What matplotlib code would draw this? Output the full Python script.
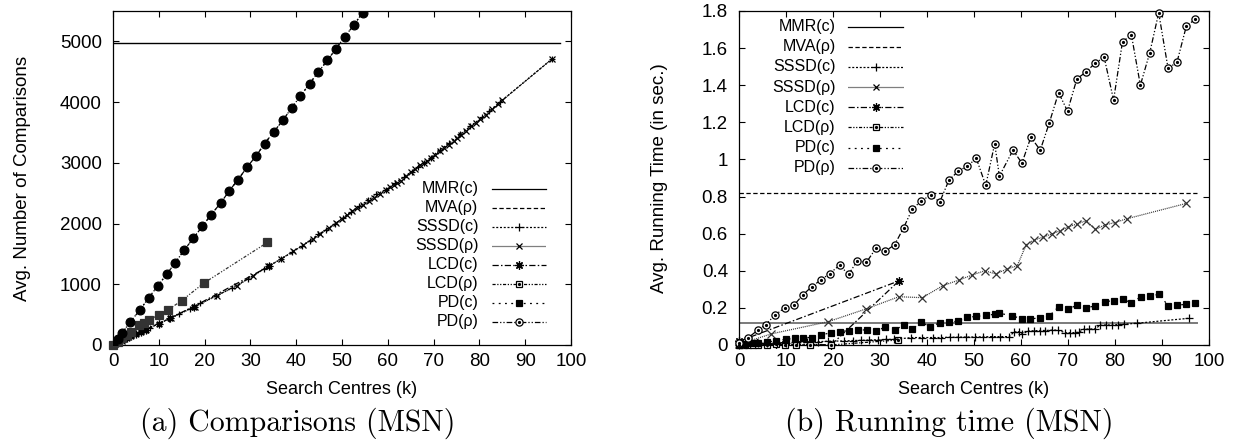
import matplotlib
matplotlib.use("Agg")
import matplotlib.pyplot as plt
from matplotlib.ticker import FuncFormatter, MultipleLocator

plt.rcParams['font.family'] = ['Liberation Sans', 'DejaVu Sans']

# ---------------- data: (a) comparisons ----------------
mmr_x_cmp = [0, 97.5]
mmr_cmp = [4965, 4965]

pd_x_cmp = [0, 1, 1.9, 3.8, 5.9, 7.8, 9.8, 11.7, 13.6, 15.6, 17.5, 19.5, 21.4, 23.5, 25.4,
            27.3, 29.3, 31.3, 33.1, 35.1, 37.1, 39, 40.9, 42.9, 44.8, 46.8, 48.7, 50.6, 52.6, 54.5]
pd_c_cmp = [0, 95, 190, 385, 578, 781, 974, 1166, 1358, 1568, 1755, 1953, 2145, 2338, 2541,
            2723, 2932, 3119, 3317, 3510, 3701, 3906, 4097, 4302, 4493, 4686, 4879, 5078, 5269, 5474]
pd_r_cmp = [0, 95, 190, 385, 578, 781, 974, 1166, 1358, 1568, 1755, 1953, 2145, 2338, 2541,
            2723, 2932, 3119, 3317, 3510, 3701, 3906, 4097, 4302, 4493, 4686, 4879, 5078, 5269, 5474]

lcd_r_x_cmp = [0, 1, 2, 3, 4, 5.6, 6.7, 7.8, 10, 12, 15, 19.8, 33.7]
lcd_r_cmp = [0, 55, 110, 165, 220, 330, 370, 412, 495, 578, 731, 1018, 1688]

lcd_c_x_cmp = [0, 1, 2, 3, 4, 5, 6, 7.1, 10, 12.5, 17.6, 34]
lcd_c_cmp = [0, 40, 75, 110, 145, 180, 215, 250, 350, 445, 633, 1293]

sssd_r_x_cmp = [0, 2, 6.9, 12.6, 17.9, 22.6, 27, 30.6, 33.9, 36.7, 39.3, 41.5, 43.6, 45.3, 47.1,
                48.6, 50, 51.1, 52.2, 53.3, 54.6, 55.8, 57, 58.3, 59.5, 60.4, 61.3, 62.1, 62.8,
                63.9, 65, 66, 67.1, 67.9, 68.6, 69.5, 70.4, 71.3, 72.2, 73.3, 74.4, 75.2, 75.9,
                77, 78.1, 79.2, 80.2, 81.5, 82.8, 84, 85, 95.9]
sssd_r_cmp = [0, 70, 250, 440, 633, 808, 974, 1139, 1293, 1419, 1540, 1640, 1744, 1835, 1930,
              2005, 2080, 2140, 2200, 2255, 2310, 2365, 2420, 2490, 2557, 2600, 2640, 2675, 2706,
              2775, 2843, 2900, 2960, 2995, 3025, 3080, 3135, 3190, 3245, 3300, 3355, 3410, 3460,
              3530, 3602, 3660, 3713, 3795, 3878, 3960, 4030, 4714]

sssd_c_x_cmp = [0, 2, 4, 6, 8, 10, 12.3, 14.5, 16.8, 19, 22.4, 26, 29.5, 33, 36.7, 39, 41.2,
                43, 44.8, 46.6, 48.4, 50.2, 52, 53.8, 55.6, 57.5, 59.5, 61.5, 63.5, 65.2, 66.5,
                67.8, 69.4, 71.4, 73.3, 75.8, 78, 80.6, 82, 84.6, 95.8]
sssd_c_cmp = [0, 70, 140, 210, 280, 355, 430, 515, 600, 685, 805, 940, 1090, 1255, 1415, 1525,
              1630, 1720, 1820, 1900, 1990, 2090, 2195, 2285, 2380, 2480, 2557, 2660, 2770, 2850,
              2930, 3000, 3085, 3215, 3320, 3470, 3600, 3750, 3845, 4005, 4705]

# ---------------- data: (b) running time ----------------
mmr_x_t = [0, 97.5]
mmr_t = [0.117, 0.117]
mva_x_t = [0, 97.5]
mva_t = [0.817, 0.817]

pd_r_x_t = [0, 2, 4, 5.7, 7.6, 9.7, 11.7, 13.6, 15.5, 17.4, 19.3, 21.4, 23.3, 25.2, 27.1, 29.1,
            31.1, 33.1, 35, 36.9, 38.8, 40.8, 42.7, 44.7, 46.6, 48.6, 50.5, 52.5, 54.4, 55.4,
            58.3, 60.2, 62.1, 64.1, 66, 68, 69.9, 71.9, 73.8, 75.8, 77.7, 79.7, 81.6, 83.5,
            85.4, 87.4, 89.3, 91.3, 93.2, 95.2, 97.1]
pd_r_t = [0.01, 0.04, 0.08, 0.11, 0.16, 0.20, 0.215, 0.27, 0.315, 0.35, 0.385, 0.43, 0.38,
          0.455, 0.445, 0.52, 0.505, 0.54, 0.63, 0.735, 0.775, 0.81, 0.77, 0.89, 0.935, 0.965,
          1.005, 0.86, 1.085, 0.91, 1.05, 0.98, 1.12, 1.05, 1.195, 1.36, 1.26, 1.435, 1.47,
          1.52, 1.55, 1.32, 1.635, 1.67, 1.40, 1.575, 1.79, 1.49, 1.525, 1.72, 1.755]

pd_c_x_t = [0, 1, 2, 3, 4, 5.9, 7.8, 9.9, 11.9, 13.6, 15.6, 17.5, 19.5, 21.4, 23.3, 25.3, 27.3,
            29.2, 31.1, 33.1, 35, 36.9, 38.8, 40.7, 42.7, 44.7, 46.6, 48.5, 50.5, 52.5, 54.4,
            55.3, 58.1, 60.2, 62, 64.1, 66, 68, 70, 71.9, 73.8, 75.8, 77.8, 79.7, 81.6, 83.5,
            85.5, 87.4, 89.4, 91.3, 93.3, 95.2, 97.1]
pd_c_t = [0.0, 0.005, 0.008, 0.01, 0.012, 0.015, 0.023, 0.03, 0.036, 0.04, 0.04, 0.054, 0.066,
          0.072, 0.077, 0.081, 0.081, 0.075, 0.097, 0.079, 0.108, 0.086, 0.123, 0.097, 0.12,
          0.124, 0.128, 0.149, 0.154, 0.16, 0.165, 0.171, 0.158, 0.14, 0.14, 0.147, 0.156,
          0.206, 0.192, 0.215, 0.201, 0.21, 0.233, 0.239, 0.246, 0.228, 0.26, 0.264, 0.273,
          0.212, 0.215, 0.219, 0.225]

sssd_r_x_t = [0, 2, 6.9, 18.9, 27.1, 34, 39, 43.4, 46.8, 49.6, 52.3, 54.6, 57.1, 59.2, 61.1,
              62.7, 64.6, 66.5, 68.4, 70.1, 71.9, 73.9, 75.8, 77.9, 80, 82.5, 95.2]
sssd_r_t = [0.005, 0.02, 0.06, 0.125, 0.195, 0.26, 0.255, 0.32, 0.35, 0.377, 0.40, 0.383, 0.41,
            0.427, 0.54, 0.565, 0.58, 0.598, 0.616, 0.637, 0.652, 0.67, 0.623, 0.647, 0.66,
            0.68, 0.763]

sssd_c_x_t = [0, 2, 4, 6, 8, 10, 12.3, 14.5, 16.8, 19, 22.4, 24.2, 26, 27.7, 29.5, 31.3, 33,
              36.7, 39, 41.2, 43, 44.8, 46.6, 48.4, 50.2, 52, 53.8, 55.6, 57.5, 58.5, 59.5,
              60.3, 61.5, 62.8, 64, 65.2, 66.5, 67.8, 69.4, 70.4, 71.4, 72.3, 73.3, 74.5, 75.8,
              76.8, 78, 79.3, 80.6, 82, 84.6, 95.8]
sssd_c_t = [0.0, 0.005, 0.008, 0.01, 0.012, 0.013, 0.015, 0.016, 0.018, 0.02, 0.022, 0.024,
            0.025, 0.027, 0.028, 0.03, 0.03, 0.04, 0.04, 0.04, 0.04, 0.042, 0.042, 0.043, 0.043,
            0.044, 0.045, 0.045, 0.045, 0.07, 0.072, 0.059, 0.075, 0.077, 0.078, 0.078, 0.08,
            0.08, 0.066, 0.066, 0.067, 0.068, 0.085, 0.086, 0.087, 0.106, 0.108, 0.108, 0.11,
            0.112, 0.117, 0.144]

# LCD(c) data in the order the original file lists it
lcd_c_x_t = [0, 34, 19.6, 15, 12.2, 9.7, 7.8, 5.9, 3.9, 2]
lcd_c_t = [0.02, 0.345, 0.0, 0.004, 0.004, 0.005, 0.006, 0.007, 0.008, 0.01]

lcd_r_x_t = [0, 1, 2, 3, 4, 5.9, 7.8, 9.7, 12.2, 15, 19.6, 33.9]
lcd_r_t = [0.0, 0.0, 0.0, 0.0, 0.0, 0.002, 0.003, 0.0, 0.0, 0.0, 0.0, 0.027]

legend_labels = ['MMR(c)', 'MVA(ρ)', 'SSSD(c)', 'SSSD(ρ)', 'LCD(c)', 'LCD(ρ)', 'PD(c)', 'PD(ρ)']
x_ticks = [0, 10, 20, 30, 40, 50, 60, 70, 80, 90, 100]
xlabel = 'Search Centres (k)'
ylabel_a = 'Avg. Number of Comparisons'
ylabel_b = 'Avg. Running Time (in sec.)'
caption_a = '(a) Comparisons (MSN)'
caption_b = '(b) Running time (MSN)'

# ---------------- styles ----------------
LW = 0.9
STY = {
    'MMR(c)':  dict(ls='-', marker=None),
    'MVA(ρ)':  dict(ls=(0, (3.5, 2.0)), marker=None),
    'SSSD(c)': dict(ls=(0, (1.6, 1.4)), marker='+', ms=6, dot=False, fill=True),
    'SSSD(ρ)': dict(ls=(0, (0.8, 0.8)), marker='x', ms=4.8, dot=False, fill=True),
    'LCD(c)':  dict(ls=(0, (5, 1.8, 1.2, 1.8)), marker=(8, 2, 0), ms=6, dot=False, fill=True),
    'LCD(ρ)':  dict(ls=(0, (2.5, 1.3, 1, 1.3, 1, 1.3)), marker='s', ms=4.6, dot=True, fill=False),
    'PD(c)':   dict(ls=(0, (1.5, 3.5)), marker='s', ms=4.6, dot=False, fill=True),
    'PD(ρ)':   dict(ls=(0, (4.5, 1.6, 1, 1.6, 1, 1.6)), marker='o', ms=5.2, dot=True, fill=False),
}


def draw(ax, x, y, name, color='black', ms=None, fill=None, lw=LW, clip=False, z=3):
    s = STY[name]
    m = s.get('marker')
    msz = ms if ms is not None else s.get('ms', 5)
    f = s.get('fill', True) if fill is None else fill
    ax.plot(x, y, linestyle=s['ls'], color=color, lw=lw, marker=m, ms=msz,
            mfc=(color if f else 'white'), mec=color, mew=0.9, clip_on=clip, zorder=z)
    if m is not None and s.get('dot') and not f:
        ax.plot(x, y, linestyle='none', marker='o', ms=1.3, color=color, clip_on=clip,
                zorder=z + 0.1)


def legend(ax, tx, x0, x1, y0, dy):
    for i, name in enumerate(legend_labels):
        y = y0 - i * dy
        s = STY[name]
        ax.text(tx, y, name, transform=ax.transAxes, ha='right', va='center', fontsize=11.5)
        ax.plot([x0, x1], [y, y], transform=ax.transAxes, color='black', lw=LW,
                linestyle=s['ls'], clip_on=False, zorder=5)
        m = s.get('marker')
        if m is not None:
            xm = (x0 + x1) / 2
            f = s.get('fill', True)
            ax.plot([xm], [y], transform=ax.transAxes, marker=m, ms=s.get('ms', 5),
                    color='black', mfc=('black' if f else 'white'), mew=0.9,
                    linestyle='none', clip_on=False, zorder=6)
            if s.get('dot') and not f:
                ax.plot([xm], [y], transform=ax.transAxes, marker='o', ms=1.3,
                        color='black', linestyle='none', clip_on=False, zorder=7)


def style_axes(ax, ymax, ystep, ylabel, ylab_x):
    ax.set_xlim(0, 100)
    ax.set_ylim(0, ymax)
    ax.set_xticks(x_ticks)
    ax.yaxis.set_major_locator(MultipleLocator(ystep))
    ax.yaxis.set_major_formatter(FuncFormatter(lambda v, p: '%g' % round(v, 4)))
    ax.tick_params(direction='in', length=4.5, width=0.8, top=True, right=True,
                   labelsize=13.5, color='black')
    ax.tick_params(axis='x', pad=6)
    ax.tick_params(axis='y', pad=8)
    for sp in ax.spines.values():
        sp.set_linewidth(0.9)
    ax.set_xlabel(xlabel, fontsize=13)
    ax.xaxis.set_label_coords(0.5, -0.132)
    ax.xaxis.label.set_va('center')
    ax.set_ylabel(ylabel, fontsize=13.5)
    ax.yaxis.set_label_coords(ylab_x, 0.5)
    ax.yaxis.label.set_va('center')


fig = plt.figure(figsize=(12.41, 4.46), dpi=100)

# ----- (a) -----
ax1 = fig.add_axes([0.0911, 0.2265, 0.3690, 0.7489])
style_axes(ax1, 5500, 1000, ylabel_a, -0.1976)
ax1.plot(mmr_x_cmp, mmr_cmp, color='black', lw=1.0, zorder=2)
draw(ax1, sssd_c_x_cmp, sssd_c_cmp, 'SSSD(c)', ms=5)
draw(ax1, sssd_r_x_cmp, sssd_r_cmp, 'SSSD(ρ)', ms=4.2)
draw(ax1, lcd_c_x_cmp, lcd_c_cmp, 'LCD(c)', ms=5.5)
draw(ax1, lcd_r_x_cmp, lcd_r_cmp, 'LCD(ρ)', color='#333333', ms=5.2, fill=True)
draw(ax1, pd_x_cmp, pd_c_cmp, 'PD(c)', ms=4.4, fill=True, clip=True)
draw(ax1, pd_x_cmp, pd_r_cmp, 'PD(ρ)', ms=6.3, fill=True, clip=True)
legend(ax1, 0.7976, 0.8269, 0.9448, 0.467, 0.0568)

# ----- (b) -----
ax2 = fig.add_axes([0.5955, 0.2265, 0.3787, 0.7489])
style_axes(ax2, 1.8, 0.2, ylabel_b, -0.170)
ax2.plot(mmr_x_t, mmr_t, color='#7a7a7a', lw=1.4, zorder=2)
ax2.plot(mva_x_t, mva_t, color='black', lw=LW, linestyle=STY['MVA(ρ)']['ls'], zorder=2)
draw(ax2, lcd_c_x_t, lcd_c_t, 'LCD(c)')
draw(ax2, lcd_r_x_t, lcd_r_t, 'LCD(ρ)')
draw(ax2, sssd_c_x_t, sssd_c_t, 'SSSD(c)')
draw(ax2, sssd_r_x_t, sssd_r_t, 'SSSD(ρ)', color='#333333', ms=5.4)
draw(ax2, pd_c_x_t, pd_c_t, 'PD(c)')
draw(ax2, pd_r_x_t, pd_r_t, 'PD(ρ)')
legend(ax2, 0.2057, 0.2326, 0.3483, 0.953, 0.0603)

# captions
fig.text(0.2400, 0.052, caption_a, ha='center', va='center', fontsize=21.5, family='cmr10')
fig.text(0.7650, 0.052, caption_b, ha='center', va='center', fontsize=21.5, family='cmr10')

fig.savefig('out.png', dpi=100)
